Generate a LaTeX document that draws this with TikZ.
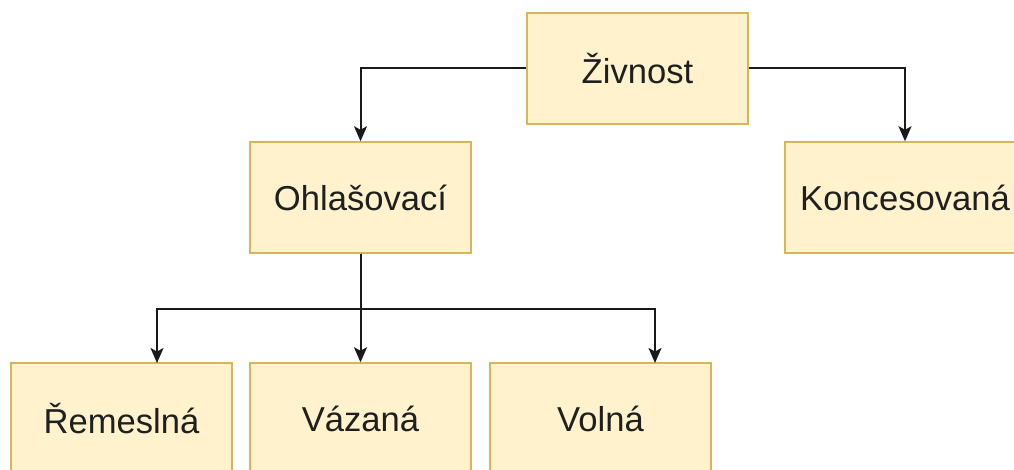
\documentclass[tikz,border=0pt]{standalone}
\usepackage{fontspec}
\setmainfont{Liberation Sans}
\usetikzlibrary{arrows.meta}
\definecolor{boxfill}{HTML}{FFF2CC}
\definecolor{boxline}{HTML}{D6B656}
\definecolor{edgecol}{HTML}{1A1A1A}
\begin{document}
\begin{tikzpicture}[x=1pt,y=-1pt,
  box/.style={draw=boxline,fill=boxfill,line width=1.5pt,minimum width=221pt,minimum height=111pt,inner sep=0pt,font=\fontsize{34.6}{40}\selectfont,text=black!88},
  edge/.style={draw=edgecol,line width=2pt,-{Stealth[length=15pt,width=13pt,inset=3.5pt]}}]
\useasboundingbox (0,0) rectangle (1014,470);
\clip (0,0) rectangle (1014,470);
\fill[white] (0,0) rectangle (1014,470);
\node[box] (z) at (637.5,68.5) {Živnost};
\node[box] (o) at (360.5,197.5) {Ohlašovací};
\node[box,minimum width=240pt] (k) at (905,197.5) {Koncesovaná};
\node[box] (r) at (121.5,418.5) {Řemeslná};
\node[box] (v) at (360.5,418.5) {Vázaná};
\node[box] (vo) at (600.5,418.5) {Volná};
\coordinate (rt) at (157,363);
\coordinate (vot) at (655,363);
\coordinate (br) at (360.5,309);
\draw[edge] (z.west) -| (o.north);
\draw[edge] (z.east) -| (k.north);
\draw[edge] (o.south) -- (v.north);
\draw[edge] (br) -| (rt);
\draw[edge] (br) -| (vot);
\end{tikzpicture}
\end{document}
